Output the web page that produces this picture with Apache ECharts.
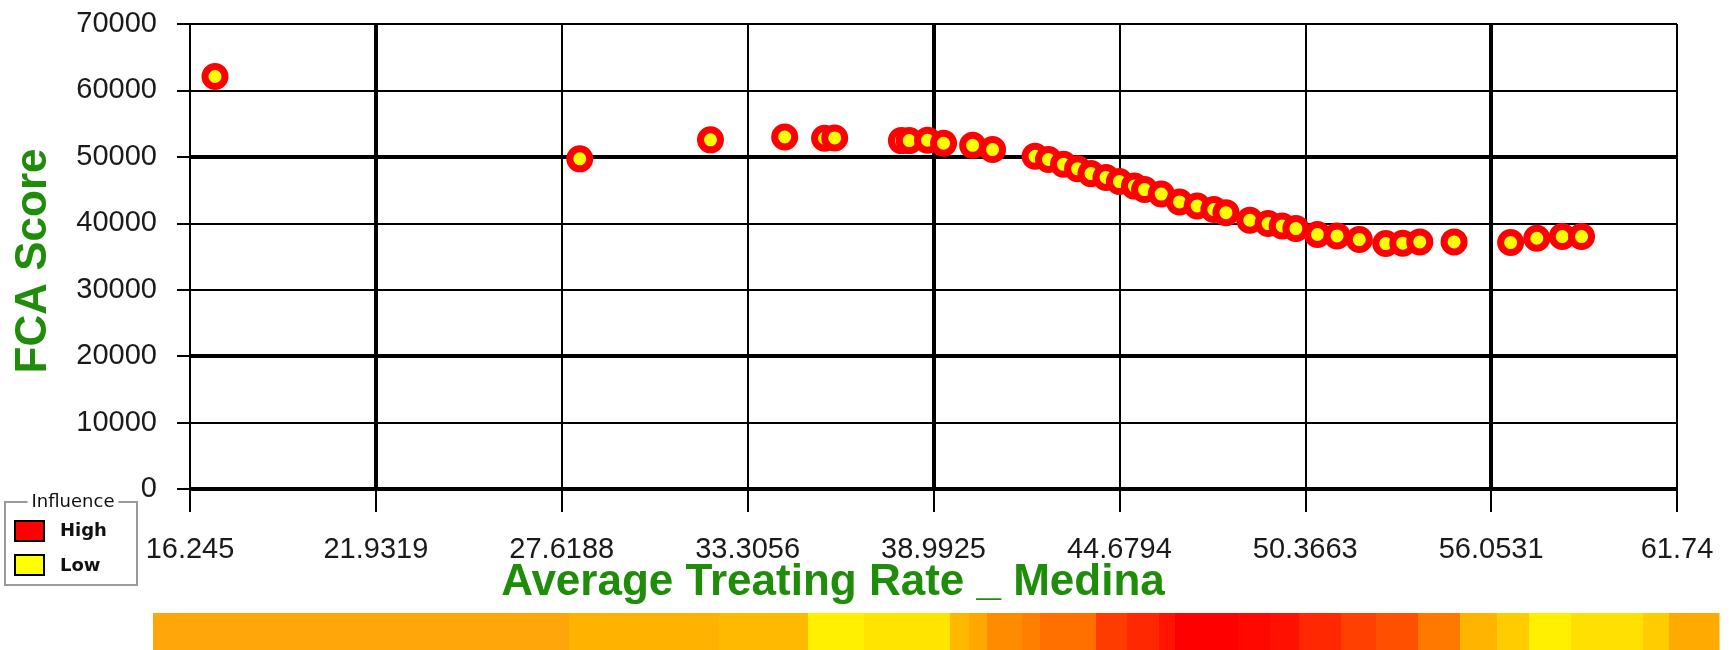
<!DOCTYPE html>
<html>
<head>
<meta charset="utf-8">
<title>FCA Score vs Average Treating Rate</title>
<script src="https://cdn.jsdelivr.net/npm/echarts@6/dist/echarts.min.js"></script>
<style>
  html, body { margin: 0; padding: 0; background: #fff; }
  #chart { width: 1729px; height: 650px; }
</style>
</head>
<body>
<div id="chart"></div>
<script>
// x values (Average Treating Rate _ Medina)
const rate = [
  17.01, 28.17, 32.17, 34.44, 35.66, 35.97, 38.01, 38.25, 38.81, 39.30,
  40.19, 40.80, 42.10, 42.51, 42.97, 43.40, 43.81, 44.27, 44.68, 45.14,
  45.45, 45.96, 46.52, 47.06, 47.57, 47.94, 48.67, 49.23, 49.66, 50.08,
  50.74, 51.34, 52.02, 52.83, 53.35, 53.87, 54.92, 56.65, 57.45, 58.23,
  58.82
]
// y values (FCA Score)
const fcaScore = [
  62100, 49700, 52560, 52990, 52800, 52850, 52450, 52450, 52500, 52050,
  51740, 51100, 50080, 49600, 48880, 48200, 47480, 46900, 46280, 45600,
  45080, 44400, 43210, 42600, 42070, 41600, 40460, 39960, 39600, 39210,
  38310, 38100, 37550, 36950, 37000, 37200, 37200, 37100, 37750, 38000,
  38000
]
// tick labels
const xTicks = [16.245, 21.9319, 27.6188, 33.3056, 38.9925, 44.6794, 50.3663, 56.0531, 61.74]
const thickX = [21.9319, 38.9925, 56.0531]
const thickY = [0, 20000, 50000]
const legendItems = ['High', 'Low']

// colour strip under the chart
const stripColors = [
  '#ffa60a', '#ffb300', '#ffba00', '#fff000', '#ffe400', '#ffb800', '#ffa800',
  '#ff8c00', '#ff8000', '#ff7000', '#ff3c00', '#ff2800', '#ff1400', '#ff0000',
  '#ff0800', '#ff1000', '#ff2800', '#ff4000', '#ff5000', '#ff7800', '#ffb400',
  '#ffcc00', '#fff000', '#ffe000', '#ffcc00', '#ffaa00'
]
const stripEdges = [
  153, 569, 719, 808, 864, 950, 969, 987, 1022, 1040, 1096, 1127, 1159, 1175,
  1238, 1270, 1299, 1341, 1376, 1418, 1460, 1497, 1529, 1571, 1643, 1669, 1719
]

const chart = echarts.init(document.getElementById('chart'))

const gridLines = []
xTicks.forEach(v => {
  gridLines.push({ xAxis: v, lineStyle: { width: thickX.includes(v) ? 4 : 2 } })
})
thickY.forEach(v => {
  gridLines.push({ yAxis: v, lineStyle: { width: 4 } })
})

const stripRects = stripColors.map((c, i) => ({
  type: 'rect',
  shape: { x: stripEdges[i], y: 613, width: stripEdges[i + 1] - stripEdges[i] + 0.5, height: 37 },
  style: { fill: c },
  silent: true
}))

const legendColors = ['#ff0000', '#ffff00']
const legendGraphics = [
  {
    type: 'rect',
    shape: { x: 5, y: 502, width: 132, height: 83 },
    style: { fill: '#fff', stroke: '#9a9a9a', lineWidth: 2 }
  },
  {
    type: 'text',
    x: 73, y: 502,
    style: {
      text: 'Influence', font: '18px "DejaVu Sans"', fill: '#111',
      align: 'center', verticalAlign: 'middle',
      backgroundColor: '#fff', padding: [0, 4]
    }
  }
]
legendItems.forEach((name, i) => {
  legendGraphics.push({
    type: 'rect',
    shape: { x: 15, y: 521 + i * 34, width: 29, height: 20 },
    style: { fill: legendColors[i], stroke: '#000', lineWidth: 2 }
  })
  legendGraphics.push({
    type: 'text',
    x: 60, y: 531 + i * 35,
    style: {
      text: name, font: 'bold 18px "DejaVu Sans"', fill: '#111',
      align: 'left', verticalAlign: 'middle'
    }
  })
})

const option = {
  backgroundColor: '#fff',
  animation: false,
  grid: { left: 190, right: 52, top: 24, bottom: 161 },
  xAxis: {
    type: 'value',
    min: 16.245,
    max: 61.74,
    axisLine: { show: true, lineStyle: { color: '#000', width: 2 } },
    axisTick: { show: true, customValues: xTicks, length: 23, lineStyle: { color: '#000', width: 2 } },
    axisLabel: {
      customValues: xTicks,
      margin: 46,
      color: '#1a1a1a',
      fontSize: 29,
      fontFamily: '"Liberation Sans", Arial, sans-serif',
      formatter: v => String(v)
    },
    splitLine: { show: false }
  },
  yAxis: {
    type: 'value',
    min: 0,
    max: 70000,
    interval: 10000,
    axisLine: { show: true, lineStyle: { color: '#000', width: 2 } },
    axisTick: { show: true, length: 13, lineStyle: { color: '#000', width: 2 } },
    axisLabel: {
      margin: 33,
      color: '#1a1a1a',
      fontSize: 29,
      fontFamily: '"Liberation Sans", Arial, sans-serif',
      formatter: v => String(v)
    },
    splitLine: { show: true, lineStyle: { color: '#000', width: 2 } }
  },
  series: [
    {
      name: 'grid',
      type: 'line',
      data: [],
      z: 1,
      silent: true,
      markLine: {
        silent: true,
        symbol: 'none',
        animation: false,
        label: { show: false },
        lineStyle: { color: '#000', type: 'solid' },
        emphasis: { disabled: true },
        data: gridLines
      }
    },
    {
      name: 'FCA Score',
      type: 'scatter',
      z: 5,
      symbol: 'circle',
      symbolSize: 20,
      itemStyle: { color: '#ffff00', borderColor: '#ff0000', borderWidth: 7, opacity: 1 },
      emphasis: { disabled: true },
      data: rate.map((x, i) => [x, fcaScore[i]])
    }
  ],
  graphic: [
    {
      type: 'text',
      x: 833, y: 583,
      style: {
        text: 'Average Treating Rate _ Medina',
        font: 'bold 44px "Liberation Sans", Arial, sans-serif',
        fill: '#1f8c0a', align: 'center', verticalAlign: 'middle'
      }
    },
    {
      type: 'text',
      x: 34, y: 261,
      rotation: Math.PI / 2,
      style: {
        text: 'FCA Score',
        font: 'bold 44px "Liberation Sans", Arial, sans-serif',
        fill: '#1f8c0a', align: 'center', verticalAlign: 'middle'
      }
    }
  ].concat(legendGraphics, stripRects)
}

chart.setOption(option)
</script>
</body>
</html>
